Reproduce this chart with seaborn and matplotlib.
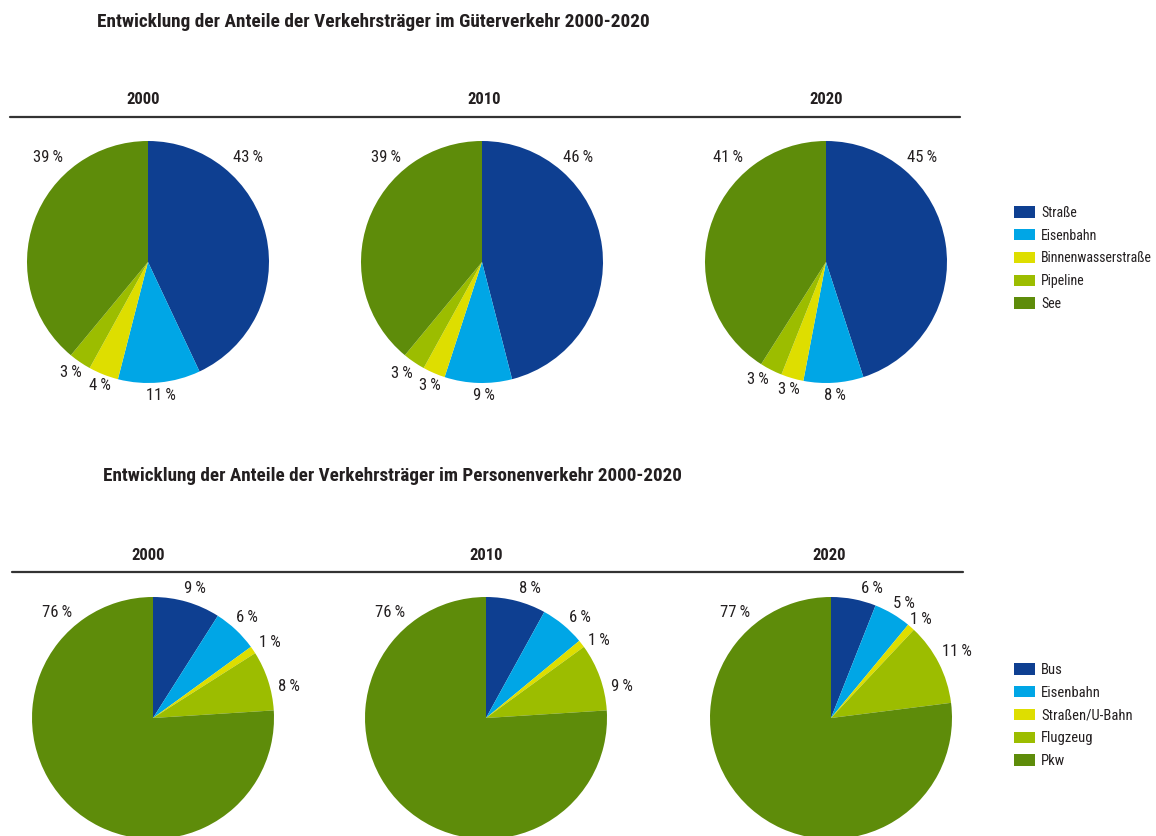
import matplotlib
matplotlib.use("Agg")
import matplotlib.pyplot as plt
from matplotlib import font_manager
from matplotlib.patches import Patch
from matplotlib.lines import Line2D
import seaborn as sns

sns.set_style("white")
installed = {f.name for f in font_manager.fontManager.ttflist}
narrow = [f for f in ['Liberation Sans Narrow', 'DejaVu Sans Condensed', 'Roboto Condensed',
                      'Open Sans Condensed', 'Lato', 'Roboto'] if f in installed]
plt.rcParams['font.family'] = narrow[:1] + ['DejaVu Sans']
plt.rcParams['text.color'] = '#231F20'

# data
years = ['2000', '2010', '2020']

freight_modes = ['Straße', 'Eisenbahn', 'Binnenwasserstraße', 'Pipeline', 'See']
freight_2000 = [43, 11, 4, 3, 39]
freight_2010 = [46, 9, 3, 3, 39]
freight_2020 = [45, 8, 3, 3, 41]

passenger_modes = ['Bus', 'Eisenbahn', 'Straßen/U-Bahn', 'Flugzeug', 'Pkw']
passenger_2000 = [9, 6, 1, 8, 76]
passenger_2010 = [8, 6, 1, 9, 76]
passenger_2020 = [6, 5, 1, 11, 77]

colors = sns.color_palette(['#0E3F91', '#00A6E6', '#DEDE00', '#9CBD00', '#5E8C0A'])

# label offsets (in pie radii) relative to the pie centre
freight_lbl = [
    [(0.83, 0.86), (0.11, -1.10), (-0.40, -1.02), (-0.64, -0.91), (-0.83, 0.86)],
    [(0.79, 0.86), (0.02, -1.10), (-0.43, -1.02), (-0.66, -0.92), (-0.79, 0.86)],
    [(0.79, 0.86), (0.07, -1.10), (-0.31, -1.05), (-0.56, -0.97), (-0.81, 0.86)],
]
passenger_lbl = [
    [(0.35, 1.07), (0.78, 0.83), (0.97, 0.62), (1.12, 0.26), (-0.79, 0.87)],
    [(0.36, 1.07), (0.78, 0.83), (0.93, 0.64), (1.12, 0.26), (-0.79, 0.87)],
    [(0.34, 1.07), (0.60, 0.95), (0.74, 0.81), (1.04, 0.55), (-0.79, 0.87)],
]

W, H = 1156, 836
fig = plt.figure(figsize=(W / 100, H / 100), dpi=100)
renderer = fig.canvas.get_renderer()
R = 121


def fit_text(x, y, s, width_px, size, **kw):
    # scale the font so the text is as wide as the reference one
    t = fig.text(x / W, 1 - y / H, s, fontsize=size, **kw)
    w = t.get_window_extent(renderer).width
    t.set_fontsize(size * width_px / w)
    return t


def draw_pie(values, cx, cy, offsets):
    size = 2.5 * R
    ax = fig.add_axes([(cx - size / 2) / W, (H - cy - size / 2) / H, size / W, size / H])
    ax.pie(values, colors=colors, startangle=90, counterclock=False,
           wedgeprops=dict(linewidth=0))
    ax.set_xlim(-1.25, 1.25)
    ax.set_ylim(-1.25, 1.25)
    for v, (dx, dy) in zip(values, offsets):
        ax.text(dx, dy, f'{v}\u2009%', ha='center', va='center', fontsize=12,
                clip_on=False)
    return ax


def section(title, tx, ty, title_w, year_x, year_y, line_y, line_x, centers, cy,
            series, offsets):
    fit_text(tx, ty, title, title_w, 14, fontweight='bold', va='center', ha='left')
    for yr, x in zip(years, year_x):
        fig.text(x / W, 1 - year_y / H, yr, fontsize=12, fontweight='bold',
                 ha='center', va='center')
    fig.add_artist(Line2D([line_x[0] / W, line_x[1] / W], [1 - line_y / H] * 2,
                          color='#333333', linewidth=1.6))
    for vals, cx, off in zip(series, centers, offsets):
        draw_pie(vals, cx, cy, off)


section('Entwicklung der Anteile der Verkehrsträger im Güterverkehr 2000-2020',
        97, 22, 553, [143, 484, 826], 99, 117, (10, 960), [148, 482, 826], 262,
        [freight_2000, freight_2010, freight_2020], freight_lbl)
section('Entwicklung der Anteile der Verkehrsträger im Personenverkehr 2000-2020',
        103, 476, 580, [148, 486, 829], 555, 572, (12, 963), [153, 486, 831], 718,
        [passenger_2000, passenger_2010, passenger_2020], passenger_lbl)

for modes, top in [(freight_modes, 206), (passenger_modes, 663)]:
    handles = [Patch(facecolor=c, edgecolor='none') for c in colors]
    leg = fig.legend(handles, modes, loc='upper left', frameon=False,
                     bbox_to_anchor=(1014 / W, 1 - top / H), fontsize=10.5,
                     handlelength=1.45, handleheight=0.8, handletextpad=0.4,
                     labelspacing=0.6, borderpad=0, borderaxespad=0)
    widest = max(t.get_window_extent(renderer).width for t in leg.get_texts())
    if widest > 113:
        for t in leg.get_texts():
            t.set_fontsize(10.5 * 113 / widest)

fig.savefig('out.png', dpi=100, facecolor='white')
